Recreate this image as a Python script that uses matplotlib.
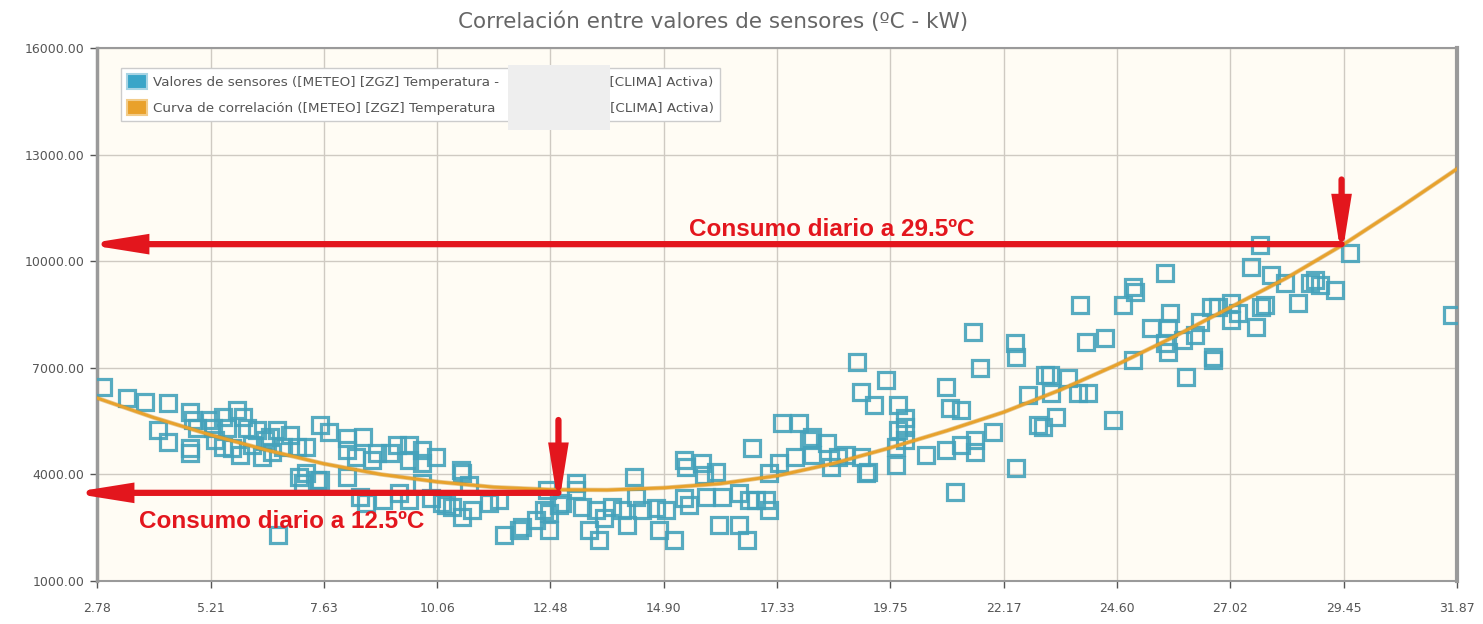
import matplotlib
matplotlib.use('Agg')
import matplotlib.pyplot as plt
from matplotlib.patches import Patch, Rectangle

# sensor readings (temperature ºC, consumption kW)
temp = [2.91, 3.42, 3.80, 4.30, 4.08, 4.30, 4.77, 4.83, 4.92, 4.77, 4.77, 5.19, 5.47, 5.56, 5.47,
        5.77, 5.90, 5.98, 5.83, 6.32, 6.20, 6.47, 6.62, 6.75, 7.05, 7.26, 7.11, 7.48, 7.18, 5.30,
        5.66, 6.09, 6.37, 6.90, 6.52, 5.26, 6.66,
        7.54, 7.75, 8.12, 8.46, 8.76, 9.19, 9.46, 9.74, 10.04, 10.59, 7.26, 7.54, 8.12, 8.40,
        8.54, 8.89, 9.25, 9.46, 9.74, 8.12, 8.33, 8.67, 9.04, 9.46, 9.74, 10.17, 10.38, 10.59,
        10.81, 11.17, 11.38, 11.88, 12.17, 12.45, 12.45, 12.73, 13.03, 9.93, 10.25, 10.57, 10.74,
        11.49, 11.81, 12.34, 12.41, 12.67,
        13.03, 13.16, 13.46, 13.52, 13.80, 14.01, 14.27, 14.31, 14.44, 14.12, 14.74, 14.95, 14.80,
        15.12, 15.33, 15.38, 15.33, 15.72, 16.02, 15.80, 16.14, 16.08, 16.51, 16.51, 16.72, 16.68,
        16.87, 17.08, 17.15, 16.78, 17.15, 17.43, 17.79, 17.36, 17.72, 18.00, 18.07, 15.76, 15.44,
        13.63, 13.31,
        19.03, 19.65, 19.13, 19.39, 19.92, 20.07, 21.52, 21.67, 20.93, 21.03, 21.27, 22.42, 22.44,
        22.70, 23.02, 23.06, 22.44, 18.07, 18.39, 19.13, 19.28, 19.86, 19.86, 20.07, 20.52, 20.93,
        21.25, 21.57, 21.57, 21.95, 22.91, 18.47, 18.64, 18.79, 19.22, 19.92, 20.07, 21.14,
        23.17, 23.55, 23.19, 23.30, 23.77, 23.98, 23.81, 23.94, 24.34, 24.73, 24.94, 24.98, 25.62,
        24.94, 25.32, 25.69, 25.73, 25.62, 25.69, 26.01, 26.27, 26.37, 26.61, 26.76, 27.03, 27.18,
        26.07, 26.65, 26.65, 27.57, 27.46, 27.65, 27.89, 28.19, 28.46, 28.72, 28.83, 28.93, 29.25,
        29.57, 31.77, 27.03, 27.67, 27.76, 24.51]
kw = [6460, 6150, 6040, 6010, 5250, 4910, 5760, 5530, 5310, 4740, 4600, 5530, 5620, 5310, 4770,
      5810, 5620, 5310, 4550, 4490, 5250, 5050, 5250, 4770, 4770, 4770, 3930, 3840, 3760, 4970,
      4740, 4830, 4970, 5110, 4630, 5310, 2280,
      5390, 5190, 5030, 5050, 4600, 4830, 4830, 4690, 4490, 4040, 4040, 3840, 3930, 3360,
      3200, 3280, 3480, 3280, 3760, 4690, 4490, 4410, 4600, 4410, 4320, 3200, 3080, 2800,
      3000, 3200, 3280, 2520, 2720, 2910, 2440, 3200, 3560, 3340, 3140, 4130, 3700,
      2300, 2440, 3000, 3560, 3140,
      3760, 3080, 3000, 2160, 3080, 3000, 3930, 3360, 3000, 2580, 3050, 3000, 2440,
      2160, 4410, 4210, 3340, 4320, 4070, 3360, 3360, 2580, 3480, 2580, 3280, 2160,
      3280, 3280, 3000, 4740, 4040, 5450, 5450, 4320, 4490, 4970, 4550, 3980, 3140,
      2770, 2440,
      7160, 6660, 6320, 5950, 5950, 5330, 8010, 6990, 6460, 5870, 5810, 7700, 7300,
      6240, 5330, 6800, 4180, 5050, 4880, 4490, 4070, 4770, 4270, 4970, 4550, 4690,
      4830, 4970, 4630, 5190, 5390, 4210, 4490, 4550, 4040, 5250, 5590, 3510,
      6800, 6710, 6290, 5620, 6290, 6290, 8770, 7730, 7840, 8770, 9270, 9130, 9670,
      7220, 8120, 8120, 8540, 7700, 7450, 7780, 7920, 8290, 8710, 8710, 8820, 8540,
      6740, 7300, 7220, 8150, 9840, 10460, 9610, 9390, 8820, 9390, 9470, 9330, 9190,
      10230, 8490, 8350, 8710, 8770, 5530]

# correlation curve
curve_temp = [2.78, 3.99, 5.21, 6.42, 7.63, 8.85, 10.06, 11.27, 12.48, 13.69, 14.90, 16.12, 17.33,
              18.54, 19.75, 20.96, 22.17, 23.39, 24.60, 25.81, 27.02, 28.24, 29.45, 30.66, 31.87]
curve_kw = [6150, 5600, 5110, 4680, 4300, 4000, 3790, 3640, 3570, 3560, 3620, 3740, 3960,
            4310, 4750, 5230, 5750, 6380, 7090, 7870, 8700, 9540, 10480, 11520, 12600]

xticks = [2.78, 5.21, 7.63, 10.06, 12.48, 14.90, 17.33, 19.75, 22.17, 24.60, 27.02, 29.45, 31.87]
yticks = [1000, 4000, 7000, 10000, 13000, 16000]

# arrows: (temperature, consumption read on the curve)
low_t, low_kw = 12.65, 3480
high_t, high_kw = 29.40, 10480

blue = '#45a2bb'
orange = '#e8a22c'
red = '#e3161d'

fig = plt.figure(figsize=(14.83, 6.24), dpi=100)
ax = fig.add_axes([0.0654, 0.069, 0.9171, 0.854])
ax.set_facecolor('#fffcf4')

ax.plot(temp, kw, ls='none', marker='s', ms=12, mfc='none', mec=blue, mew=2.3, alpha=0.9, zorder=3)
ax.plot(curve_temp, curve_kw, color='#c98a20', lw=3.2, alpha=0.45, zorder=4)
ax.plot(curve_temp, curve_kw, color=orange, lw=2.1, zorder=4)

ax.set_xlim(2.78, 31.87)
ax.set_ylim(1000, 16000)
ax.set_xticks(xticks)
ax.set_xticklabels(['%.2f' % t for t in xticks])
ax.set_yticks(yticks)
ax.set_yticklabels(['%.2f' % v for v in yticks])
ax.grid(True, color='#cfcac2', lw=1)
ax.set_axisbelow(True)
ax.tick_params(colors='#555555', labelsize=9, length=5, width=1, pad=4)
ax.tick_params(axis='x', pad=10)
for s in ax.spines.values():
    s.set_color('#9a9a9a')
ax.spines['left'].set_linewidth(2.5)
ax.spines['right'].set_linewidth(3)
ax.spines['top'].set_linewidth(1.5)
ax.spines['bottom'].set_linewidth(1.5)

fig.text(0.481, 0.965, 'Correlación entre valores de sensores (ºC - kW)', ha='center', va='center',
         fontsize=15.5, color='#666666')

# annotation arrows (tips pushed a little past the target: the patch shrinks for the line width)
aprops = dict(arrowstyle='-|>,head_length=1.5,head_width=0.24', color=red, lw=4.5,
              mutation_scale=20, shrinkA=0, shrinkB=0, joinstyle='miter')
ax.annotate('', xy=(high_t, high_kw - 400), xytext=(high_t, 12300), arrowprops=aprops, zorder=6)
ax.annotate('', xy=(2.52, high_kw), xytext=(high_t, high_kw), arrowprops=aprops, zorder=6,
            annotation_clip=False)
ax.annotate('', xy=(low_t, low_kw - 400), xytext=(low_t, 5530), arrowprops=aprops, zorder=6)
ax.annotate('', xy=(2.2, low_kw), xytext=(low_t, low_kw), arrowprops=aprops, zorder=6,
            annotation_clip=False)
ax.text(18.5, 10900, 'Consumo diario a 29.5ºC', color=red, fontsize=17.5, fontweight='bold',
        family='Liberation Sans', ha='center', va='center', zorder=7)
ax.text(6.73, 2660, 'Consumo diario a 12.5ºC', color=red, fontsize=17.5, fontweight='bold',
        family='Liberation Sans', ha='center', va='center', zorder=7)

handles = [Patch(facecolor='#3aa5c8', edgecolor='#a8d4e4', lw=1.5),
           Patch(facecolor='#e9a12b', edgecolor='#f2cc8a', lw=1.5)]
labels = ['Valores de sensores ([METEO] [ZGZ] Temperatura -' + ' ' * 26 + '[CLIMA] Activa)',
          'Curva de correlación ([METEO] [ZGZ] Temperatura' + ' ' * 27 + '[CLIMA] Activa)']
leg = ax.legend(handles, labels, loc='upper left', bbox_to_anchor=(0.0176, 0.9625), fontsize=9.7,
                frameon=True, fancybox=False, edgecolor='#cccccc', facecolor='white', framealpha=1,
                handlelength=1.5, handleheight=1.3, labelspacing=0.85, borderpad=0.45,
                handletextpad=0.45, borderaxespad=0)
for t in leg.get_texts():
    t.set_color('#555555')

# blurred-out part of the legend
fig.patches.append(Rectangle((508 / 1483, 1 - 130 / 624), 102 / 1483, 65 / 624,
                             transform=fig.transFigure, facecolor='#eeeeee', edgecolor='none',
                             zorder=10))

fig.savefig('out.png', dpi=100)
